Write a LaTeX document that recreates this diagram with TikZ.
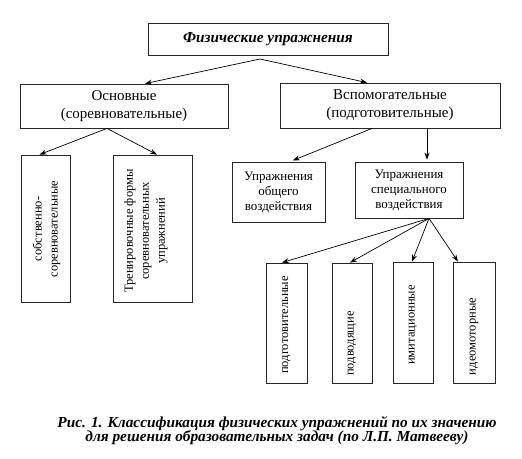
\documentclass[tikz,border=0pt]{standalone}
\usepackage{fontspec}
\setmainfont{Liberation Serif}
\usetikzlibrary{arrows.meta,calc}
\begin{document}
\begin{tikzpicture}[x=1pt,y=-1pt,
  box/.style={draw=black!85,line width=0.8pt,inner sep=0pt,align=center},
  arr/.style={-{Stealth[length=7pt,width=5pt]},line width=0.7pt},
  bigtxt/.style={font=\fontsize{15}{18}\selectfont},
  midtxt/.style={font=\fontsize{13}{15}\selectfont},
  vtxt/.style={font=\fontsize{12.5}{16}\selectfont,rotate=90,align=center,inner sep=0pt}]
\useasboundingbox (0,0) rectangle (522,458);
% top level
\node[box,minimum width=240,minimum height=32,font=\fontsize{15.3}{16}\selectfont\bfseries\itshape] (top) at (268,39) {Физические упражнения};
\coordinate (apex) at (260,59);
% second level
\node[box,bigtxt,minimum width=208,minimum height=44] (osn) at (124,106) {Основные\\(соревновательные)};
\node[box,bigtxt,minimum width=220,minimum height=45] (vsp) at (390,105.5) {Вспомогательные\\(подготовительные)};
% third level left
\node[box,minimum width=49,minimum height=147] (sob) at (45.5,228.5) {};
\node[vtxt] (sobt) at (46.5,229) {собственно-\\соревновательные};
\node[box,minimum width=79,minimum height=147] (tren) at (152.5,228.5) {};
\node[vtxt] (trent) at (146,231) {Тренировочные формы\\соревновательных\\упражнений};
% third level right
\node[box,midtxt,minimum width=93,minimum height=60] (obsh) at (278.5,192) {Упражнения\\общего\\воздействия};
\node[box,midtxt,minimum width=108,minimum height=56] (spec) at (409,190) {Упражнения\\специального\\воздействия};
% fourth level
\node[box,minimum width=41,minimum height=120] (b1) at (286.5,323) {};
\node[vtxt] (t1) at (286.5,325) {подготовительные};
\node[box,minimum width=40,minimum height=120] (b2) at (352,323) {};
\node[vtxt] (t2) at (352,343.5) {подводящие};
\node[box,minimum width=40,minimum height=121] (b3) at (413,322.5) {};
\node[vtxt] (t3) at (413,325) {имитационные};
\node[box,minimum width=42,minimum height=121] (b4) at (474,322.5) {};
\node[vtxt] (t4) at (474,336.5) {идеомоторные};
% connectors
\draw[arr] (apex) -- ([xshift=21]osn.north);
\draw[arr] (apex) -- ([xshift=-23]vsp.north);
\draw[arr] ([xshift=-17]osn.south) -- ([xshift=-6]sob.north);
\draw[arr] ([xshift=-17]osn.south) -- ([xshift=4.5]tren.north);
\draw[arr,shorten >=3pt] ([xshift=-18]vsp.south) -- ([xshift=11.5]obsh.north);
\draw[arr,shorten >=2pt] ([xshift=37]vsp.south) -- ([xshift=18]spec.north);
\draw[arr] ([xshift=20]spec.south) -- ([xshift=-4.5]b1.north);
\draw[arr] ([xshift=20]spec.south) -- ([xshift=-2]b2.north);
\draw[arr] ([xshift=20]spec.south) -- ([xshift=-1]b3.north);
\draw[arr] ([xshift=20]spec.south) -- ([xshift=-16]b4.north);
% caption
\node[font=\fontsize{15.3}{14.5}\selectfont\bfseries\itshape,align=center] (cap) at (277,430.5) {Рис. 1. Классификация физических упражнений по их значению\\для решения образовательных задач (по Л.П. Матвееву)};
\end{tikzpicture}
\end{document}
